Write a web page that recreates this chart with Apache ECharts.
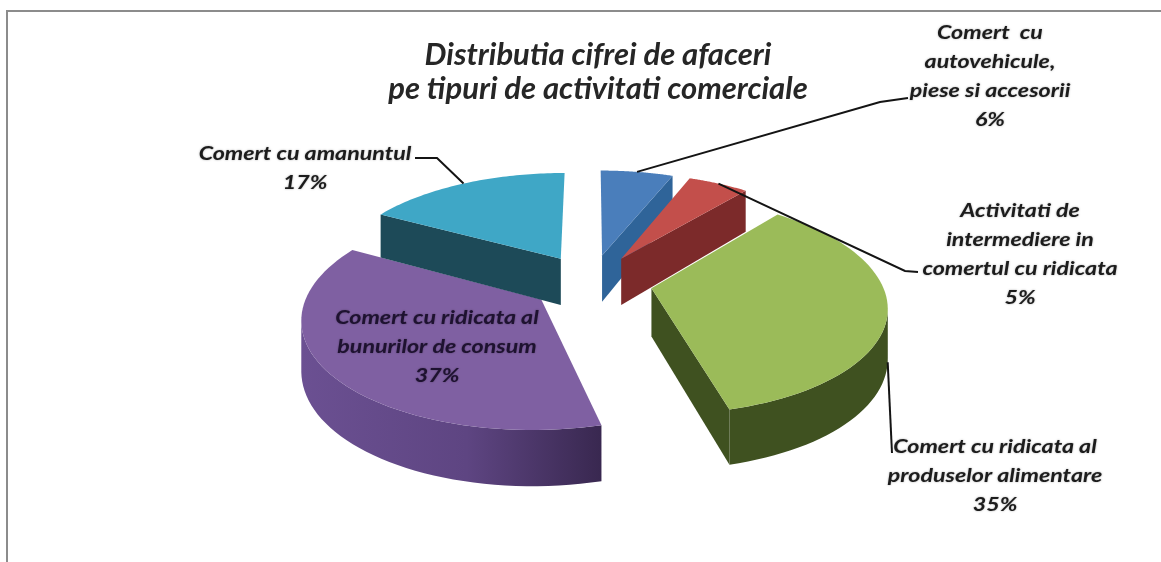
<!DOCTYPE html>
<html>
<head>
<meta charset="utf-8">
<style>html,body{margin:0;padding:0;background:#fff}#c{width:1161px;height:562px}</style>
<script src="https://cdn.jsdelivr.net/npm/echarts@6/dist/echarts.min.js"></script>
</head>
<body>
<div id="c"></div>
<script>
// ---- data ----
const categories = [
  'Comert  cu\nautovehicule,\npiese si accesorii',
  'Activitati de\nintermediere in\ncomertul cu ridicata',
  'Comert cu ridicata al\nproduselor alimentare',
  'Comert cu ridicata al\nbunurilor de consum',
  'Comert cu amanuntul'
];
const shares = [6, 5, 35, 37, 17];
const titleLines = ['Distributia cifrei de afaceri', 'pe tipuri de activitati comerciale'];

// ---- styling ----
const topColors  = ['#4a7ebb', '#c34f4b', '#9bbb59', '#7f60a2', '#3fa7c6'];
const sideColors = ['#2f6499', '#7c2a2a', '#3f5120', '#654b88', '#1d4a58'];
const FONT = 'Lato';

// perspective pie model
const CX = 591, CY = 282, SX = 230, SY = 105, PERSP = 0.15, EXPLODE = 0.267;
const project = (X, Y) => {
  const w = 1 - PERSP * Y;
  return [CX + SX * X / w, CY + SY * Y / w];
};
const depth = Y => 48 + 7 * Y;
const total = shares.reduce((a, b) => a + b, 0);
const startAngles = shares.map((_, i) => shares.slice(0, i).reduce((a, b) => a + b, 0) / total * 2 * Math.PI);
const endAngles = startAngles.map((a, i) => a + shares[i] / total * 2 * Math.PI);
const cross = (a, b, c) => (b[0] - a[0]) * (c[1] - a[1]) - (b[1] - a[1]) * (c[0] - a[0]);

function sliceGeom(i) {
  const a0 = startAngles[i], a1 = endAngles[i], mid = (a0 + a1) / 2;
  const ox = EXPLODE * Math.sin(mid), oy = -EXPLODE * Math.cos(mid);
  const world = (ang, r) => [ox + r * Math.sin(ang), oy - r * Math.cos(ang)];
  const pt = (ang, r) => { const w = world(ang, r); return project(w[0], w[1]); };
  const down = (ang, r) => { const w = world(ang, r), p = project(w[0], w[1]); return [p[0], p[1] + depth(w[1])]; };
  return { a0, a1, mid, pt, down };
}

function renderSlice(params, api) {
  const i = params.dataIndex;
  const g = sliceGeom(i), N = 60;
  const apex = g.pt(0, 0), apexB = g.down(0, 0);
  const topPts = [apex], arc = [], arcB = [];
  for (let k = 0; k <= N; k++) {
    const ang = g.a0 + (g.a1 - g.a0) * k / N;
    arc.push(g.pt(ang, 1)); arcB.push(g.down(ang, 1));
    topPts.push(arc[k]);
  }
  const children = [];
  const faceStyle = { fill: sideColors[i] };
  const radial = (P, PB, Q) => {
    const down = [P[0], P[1] + 10];
    const visible = Math.abs(P[0] - apex[0]) > 12 &&
      Math.sign(cross(apex, P, down)) !== Math.sign(cross(apex, P, Q));
    if (visible) children.push({ type: 'polygon', shape: { points: [apex, P, PB, apexB] }, style: faceStyle });
  };
  radial(arc[0], arcB[0], arc[N]);
  radial(arc[N], arcB[N], arc[0]);
  // visible part of the outer wall
  const up = [], lo = [];
  for (let k = 0; k < N; k++) {
    const s = arc[k], e = arc[k + 1];
    const visible = Math.sign(cross(s, e, [s[0], s[1] + 10])) !== Math.sign(cross(s, e, apex));
    if (visible) {
      if (!up.length) { up.push(s); lo.push(arcB[k]); }
      up.push(e); lo.push(arcB[k + 1]);
    }
  }
  if (up.length) {
    const fill = i === 3
      ? { type: 'linear', x: 0, y: 0, x2: 1, y2: 0, colorStops: [
          { offset: 0, color: '#6b5092' }, { offset: 0.55, color: '#5e4582' }, { offset: 1, color: '#392850' }] }
      : sideColors[i];
    children.push({ type: 'polygon', shape: { points: up.concat(lo.slice().reverse()) }, style: { fill } });
  }
  children.push({ type: 'polygon', shape: { points: topPts }, style: { fill: topColors[i] } });
  return { type: 'group', children };
}

// label placement: text centre and elbows of each leader line (null = no leader)
const labelLayout = [
  { x: 990,  y: 77,  elbows: [[880, 102], [908, 98]] },
  { x: 1020, y: 255, elbows: [[905, 271], [918, 272]] },
  { x: 995,  y: 476, elbows: [[892, 453]] },
  { x: 437,  y: 347, elbows: null },
  { x: 305,  y: 169, elbows: [[437, 158], [415, 158]] }
];

function renderLabel(params, api) {
  const i = params.dataIndex, L = labelLayout[i], g = sliceGeom(i);
  const children = [];
  if (L.elbows) {
    const s = i === 2 ? g.down(g.mid, 1) : g.pt(g.mid, 1);
    children.push({
      type: 'polyline',
      shape: { points: [s].concat(L.elbows) },
      style: { fill: null, stroke: '#141414', lineWidth: 2 }
    });
  }
  children.push({
    type: 'text',
    x: L.x, y: L.y, scaleX: 1.29,
    style: {
      x: 0, y: 0, text: categories[i] + '\n' + api.value(0) + '%',
      fill: i === 3 ? '#1e1230' : '#1c1c1c',
      font: 'italic bold 18px ' + FONT, lineHeight: 29,
      align: 'center', verticalAlign: 'middle',
      textShadowBlur: 2, textShadowColor: 'rgba(0,0,0,0.35)'
    }
  });
  return { type: 'group', children };
}

const chart = echarts.init(document.getElementById('c'), null, { renderer: 'canvas' });
chart.setOption({
  animation: false,
  backgroundColor: '#fff',
  title: {
    text: titleLines.join('\n'), left: 593, top: 33, textAlign: 'center',
    textStyle: { fontFamily: FONT, fontStyle: 'italic', fontWeight: 'bold', fontSize: 31, lineHeight: 34, color: '#262626' }
  },
  graphic: [
    { type: 'polyline', silent: true, shape: { points: [[7, 562], [7, 11], [1161, 11]] },
      style: { fill: null, stroke: '#8c8c8c', lineWidth: 2 } }
  ],
  series: [
    { type: 'custom', coordinateSystem: 'none', silent: true, clip: false, renderItem: renderSlice,
      data: shares.map((v, i) => ({ name: categories[i], value: [v] })) },
    { type: 'custom', coordinateSystem: 'none', silent: true, clip: false, z: 5, renderItem: renderLabel,
      data: shares.map((v, i) => ({ name: categories[i], value: [v] })) }
  ]
});
</script>
</body>
</html>
